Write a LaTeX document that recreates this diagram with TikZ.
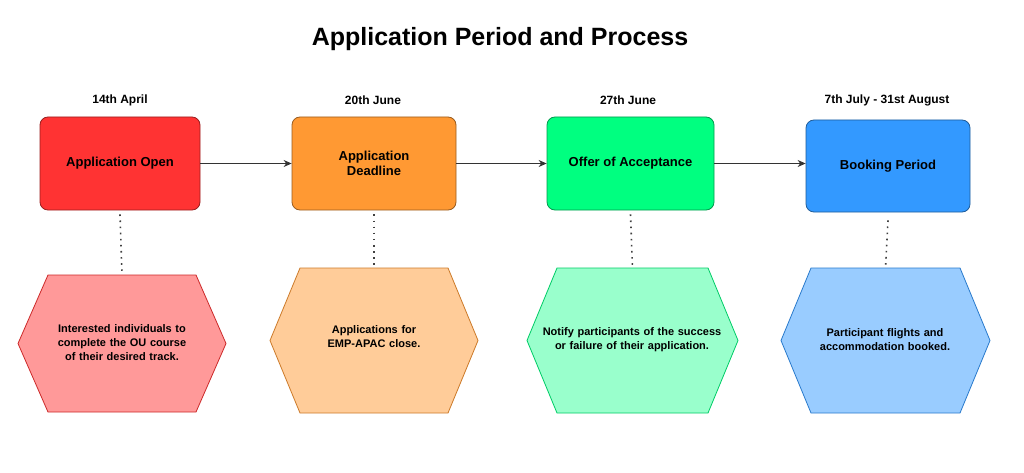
\documentclass[tikz,border=0pt]{standalone}
\usepackage{fontspec}
\setmainfont{Liberation Sans}
\usetikzlibrary{arrows.meta}
\begin{document}
\begin{tikzpicture}[x=1pt,y=-1pt,
  stage/.style={draw=#1!60!black, fill=#1, rounded corners=8pt, line width=0.8pt, font=\bfseries\fontsize{13}{15}\selectfont, align=center},
  datelbl/.style={font=\bfseries\fontsize{12}{14}\selectfont},
  desc/.style={font=\bfseries\fontsize{11}{14}\selectfont, align=center, text width=#1},
  conn/.style={-{Stealth[length=8pt,width=7pt]}, line width=0.9pt, draw=black!80},
  dots/.style={line width=1.6pt, dash pattern=on 1.6pt off 4.5pt, draw=black!75}]
\useasboundingbox (0,0) rectangle (1024,473);
\fill[white] (0,0) rectangle (1024,473);
\node[font=\bfseries\fontsize{25}{30}\selectfont] (title) at (500,39) {Application Period and Process};
\definecolor{c1}{HTML}{FF3333}\definecolor{c2}{HTML}{FF9933}
\definecolor{c3}{HTML}{00FF80}\definecolor{c4}{HTML}{3399FF}
\definecolor{h1}{HTML}{FF9999}\definecolor{h2}{HTML}{FFCC99}
\definecolor{h3}{HTML}{99FFCC}\definecolor{h4}{HTML}{99CCFF}
\node[datelbl] (d1) at (120,100) {14th April};
\node[datelbl] (d2) at (373,100) {20th June};
\node[datelbl] (d3) at (628,100) {27th June};
\node[datelbl] (d4) at (887,100) {7th July - 31st August};
\node[stage=c1, minimum width=160pt, minimum height=93pt] (b1) at (120,163.5) {Application Open};
\node[stage=c2, minimum width=164pt, minimum height=93pt] (b2) at (374,163.5) {Application\\Deadline};
\node[stage=c3, minimum width=167pt, minimum height=93pt] (b3) at (630.5,163.5) {Offer of Acceptance};
\node[stage=c4, minimum width=164pt, minimum height=92pt] (b4) at (888,166) {Booking Period};
\draw[conn] (b1.east) -- (b2.west |- b1.east);
\draw[conn] (b2.east) -- (b3.west |- b2.east);
\draw[conn] (b3.east) -- (b4.west |- b3.east);
% hexagons
\foreach \i/\l/\r/\t/\b/\col in {1/18/226/275/412/c1, 2/270/478/268/413/c2, 3/527/738/268/413/c3, 4/781/990/268/413/c4}{
  \pgfmathsetmacro\m{(\t+\b)/2}
  \pgfmathsetmacro\inset{30}
  \draw[draw=\col!80!black, fill=h\i, line width=0.8pt]
    (\l,\m) -- (\l+\inset,\t) -- (\r-\inset,\t) -- (\r,\m) -- (\r-\inset,\b) -- (\l+\inset,\b) -- cycle;
  \coordinate (ht\i) at ({(\l+\r)/2},\t);
}
\node[desc=175pt] (t1) at (122,343) {Interested individuals to complete the OU course of their desired track.};
\node[desc=180pt] (t2) at (374,337) {Applications for EMP-APAC close.};
\node[desc=180pt] (t3) at (632,340) {Notify participants of the success or failure of their application.};
\node[desc=150pt] (t4) at (885,340) {Participant flights and accommodation booked.};
\draw[dots] (b1.south) ++(0,4) -- (ht1);
\draw[dots] (b2.south) ++(0,4) -- (ht2);
\draw[dots] (b3.south) ++(0,4) -- (ht3);
\draw[dots] (b4.south) ++(0,8) -- (ht4);
\end{tikzpicture}
\end{document}
